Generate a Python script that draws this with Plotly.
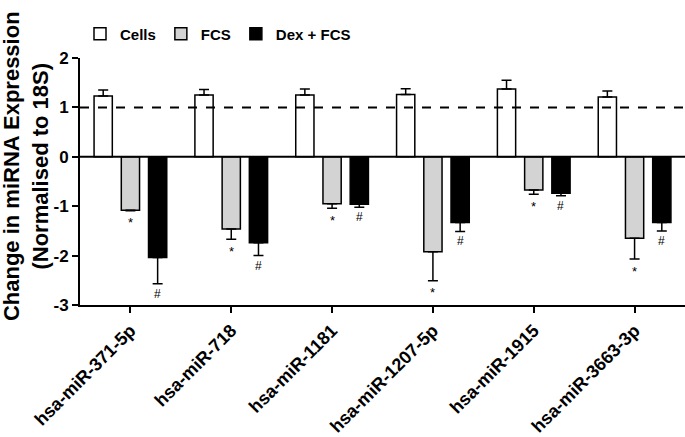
import plotly.graph_objects as go

categories = ["hsa-miR-371-5p", "hsa-miR-718", "hsa-miR-1181", "hsa-miR-1207-5p", "hsa-miR-1915", "hsa-miR-3663-3p"]
cells = [1.23, 1.25, 1.25, 1.26, 1.37, 1.21]
cells_err = [0.12, 0.11, 0.12, 0.12, 0.18, 0.12]
fcs = [-1.08, -1.46, -0.95, -1.92, -0.67, -1.65]
fcs_err = [0.01, 0.21, 0.09, 0.59, 0.09, 0.42]
dex = [-2.04, -1.74, -0.96, -1.33, -0.74, -1.33]
dex_err = [0.53, 0.26, 0.06, 0.18, 0.05, 0.17]
fcs_marks = ["*"] * 6
dex_marks = ["#"] * 6

FONT = "Liberation Sans, Arial, sans-serif"
zeros = [0] * 6

fig = go.Figure()
fig.add_trace(go.Bar(
    name="Cells", x=categories, y=cells,
    marker=dict(color="white", line=dict(color="black", width=1.5)),
    error_y=dict(type="data", symmetric=False, array=cells_err, arrayminus=zeros,
                 color="black", thickness=1.5, width=5),
))
fig.add_trace(go.Bar(
    name="FCS", x=categories, y=fcs,
    marker=dict(color="#d3d3d3", line=dict(color="black", width=1.5)),
    error_y=dict(type="data", symmetric=False, array=zeros, arrayminus=fcs_err,
                 color="black", thickness=1.5, width=5),
))
fig.add_trace(go.Bar(
    name="Dex + FCS", x=categories, y=dex,
    marker=dict(color="black", line=dict(color="black", width=1.5)),
    error_y=dict(type="data", symmetric=False, array=zeros, arrayminus=dex_err,
                 color="black", thickness=1.5, width=5),
))

for i, cat in enumerate(categories):
    fig.add_annotation(x=i, y=fcs[i] - fcs_err[i], xref="x", yref="y",
                       text=fcs_marks[i], showarrow=False, yshift=-12,
                       font=dict(family=FONT, size=13, color="black"))
    fig.add_annotation(x=i + 0.27, y=dex[i] - dex_err[i], xref="x", yref="y",
                       text=dex_marks[i], showarrow=False, yshift=-10,
                       font=dict(family=FONT, size=12, color="black"))

fig.add_annotation(xref="paper", yref="paper", x=-0.089, y=0.563,
                   xanchor="center", yanchor="middle", textangle=-90, showarrow=False,
                   text="Change in miRNA Expression<br>(Normalised to 18S)",
                   font=dict(family=FONT, size=22, color="black", weight="bold"))

fig.add_shape(type="line", xref="paper", yref="y", x0=0, x1=1, y0=1, y1=1,
              line=dict(color="black", width=2, dash="dash"))
fig.add_shape(type="line", xref="paper", yref="y", x0=0, x1=1, y0=0, y1=0,
              line=dict(color="black", width=2))

fig.update_layout(
    width=685, height=437,
    margin=dict(l=80, r=0, t=58, b=132),
    paper_bgcolor="white", plot_bgcolor="white",
    barmode="group", bargap=0.19, bargroupgap=0.33,
    font=dict(family=FONT, color="black"),
    showlegend=True,
    legend=dict(orientation="h", x=0.0, y=1.097, xanchor="left", yanchor="middle",
                font=dict(family=FONT, size=15, color="black", weight="bold"),
                bgcolor="rgba(0,0,0,0)"),
    xaxis=dict(
        type="category", range=[-0.5, 5.5], automargin=False,
        showline=True, linecolor="black", linewidth=2,
        ticks="outside", ticklen=6, tickwidth=2, tickcolor="black",
        tickangle=-45, showgrid=False, zeroline=False,
        tickfont=dict(family=FONT, size=18, color="black", weight="bold"),
    ),
    yaxis=dict(
        range=[-3, 2], automargin=False,
        tickvals=[-3, -2, -1, 0, 1, 2], ticktext=["-3", "-2", "-1", "0", "1", "2"],
        showline=True, linecolor="black", linewidth=2,
        ticks="outside", ticklen=6, tickwidth=2, tickcolor="black",
        showgrid=False, zeroline=False,
        tickfont=dict(family=FONT, size=17, color="black", weight="bold"),
    ),
)

fig.write_html("out.html", config={"displayModeBar": False},
               post_script="document.body.style.margin='0';document.body.style.overflow='hidden';")
